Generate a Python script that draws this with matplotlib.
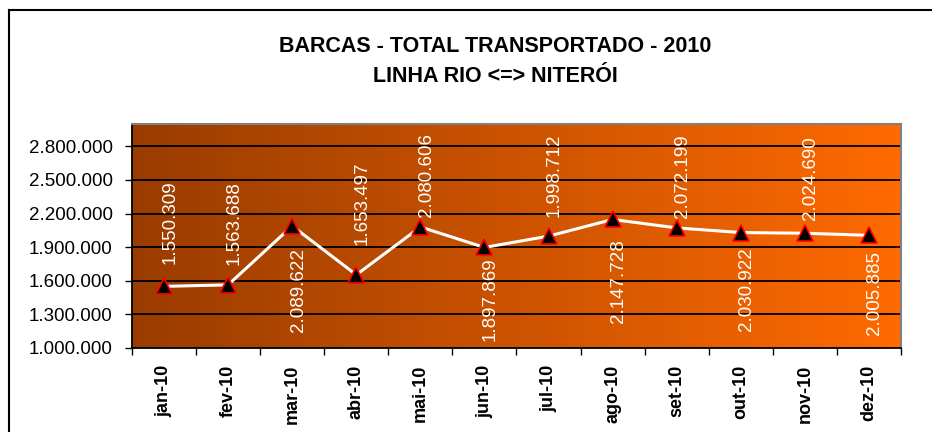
import numpy as np
import matplotlib
matplotlib.use('Agg')
import matplotlib.pyplot as plt
from matplotlib.colors import LinearSegmentedColormap
from matplotlib.lines import Line2D
from matplotlib.ticker import FuncFormatter, FixedLocator

plt.rcParams['font.family'] = ['Liberation Sans', 'DejaVu Sans']

# dados
meses = ['jan-10', 'fev-10', 'mar-10', 'abr-10', 'mai-10', 'jun-10',
         'jul-10', 'ago-10', 'set-10', 'out-10', 'nov-10', 'dez-10']
passageiros = [1550309, 1563688, 2089622, 1653497, 2080606, 1897869,
               1998712, 2147728, 2072199, 2030922, 2024690, 2005885]
y_ticks = [1000000, 1300000, 1600000, 1900000, 2200000, 2500000, 2800000]

# deslocamento vertical dos rotulos (pixels)
label_dy = [64, 62, -64, 72, 52, -52, 61, -62, 52, -57, 55, -58]

fig = plt.figure(figsize=(9.32, 4.32), dpi=100)
ax = fig.add_axes([132/932, 1-348/432, (901-132)/932, (348-124)/432])

# fundo em degrade
cmap = LinearSegmentedColormap.from_list('laranja', ['#9A3C00', '#FF6A00'])
grad = np.linspace(0, 1, 256).reshape(1, -1)
ax.imshow(grad, cmap=cmap, aspect='auto', extent=[0, 1, 0, 1],
          transform=ax.transAxes, zorder=0)

x = np.arange(len(meses))
ax.set_xlim(-0.5, len(meses) - 0.5)
ax.set_ylim(1000000, 3000000)

for t in y_ticks[1:]:
    ax.axhline(t, color='black', lw=1.3, zorder=1)

ax.plot(x, passageiros, color='white', lw=2.2, zorder=2)
ax.plot(x, passageiros, ls='none', marker='^', ms=11, mfc='black',
        mec='red', mew=1.2, zorder=3)

for xi, v, dy in zip(x, passageiros, label_dy):
    s = f'{v:,}'.replace(',', '.')
    ax.annotate(s, (xi, v), xytext=(6, dy), textcoords='offset pixels',
                rotation=90, ha='center', va='center', color='white',
                fontsize=13.5, zorder=4)

ax.yaxis.set_major_locator(FixedLocator(y_ticks))
ax.yaxis.set_major_formatter(FuncFormatter(lambda v, p: f'{int(v):,}'.replace(',', '.')))
ax.tick_params(axis='y', labelsize=13.5, length=5, width=1, direction='out', pad=9)

ax.set_xticks(x)
ax.set_xticklabels(meses, rotation=90, fontsize=13, fontweight='bold')
ax.set_xticks(np.arange(-0.5, len(meses)), minor=True)
ax.tick_params(axis='x', which='major', length=0, pad=12)
ax.tick_params(axis='x', which='minor', length=5, width=1, direction='out')

for side in ['left', 'bottom']:
    ax.spines[side].set_color('black')
    ax.spines[side].set_linewidth(1.3)
for side in ['top', 'right']:
    ax.spines[side].set_color('#808080')
    ax.spines[side].set_linewidth(1.5)

fig.text(495/932, 1-47/432, 'BARCAS - TOTAL TRANSPORTADO - 2010',
         ha='center', va='center', fontsize=15.5, fontweight='bold')
fig.text(495/932, 1-77/432, 'LINHA RIO <=> NITERÓI',
         ha='center', va='center', fontsize=15.5, fontweight='bold')

# moldura do grafico
fig.add_artist(Line2D([8.5/932, 8.5/932], [0, 1-10/432], color='black', lw=1.5,
                      transform=fig.transFigure))
fig.add_artist(Line2D([8.5/932, 1], [1-10/432, 1-10/432], color='black', lw=1.5,
                      transform=fig.transFigure))

fig.savefig('out.png', dpi=100)
